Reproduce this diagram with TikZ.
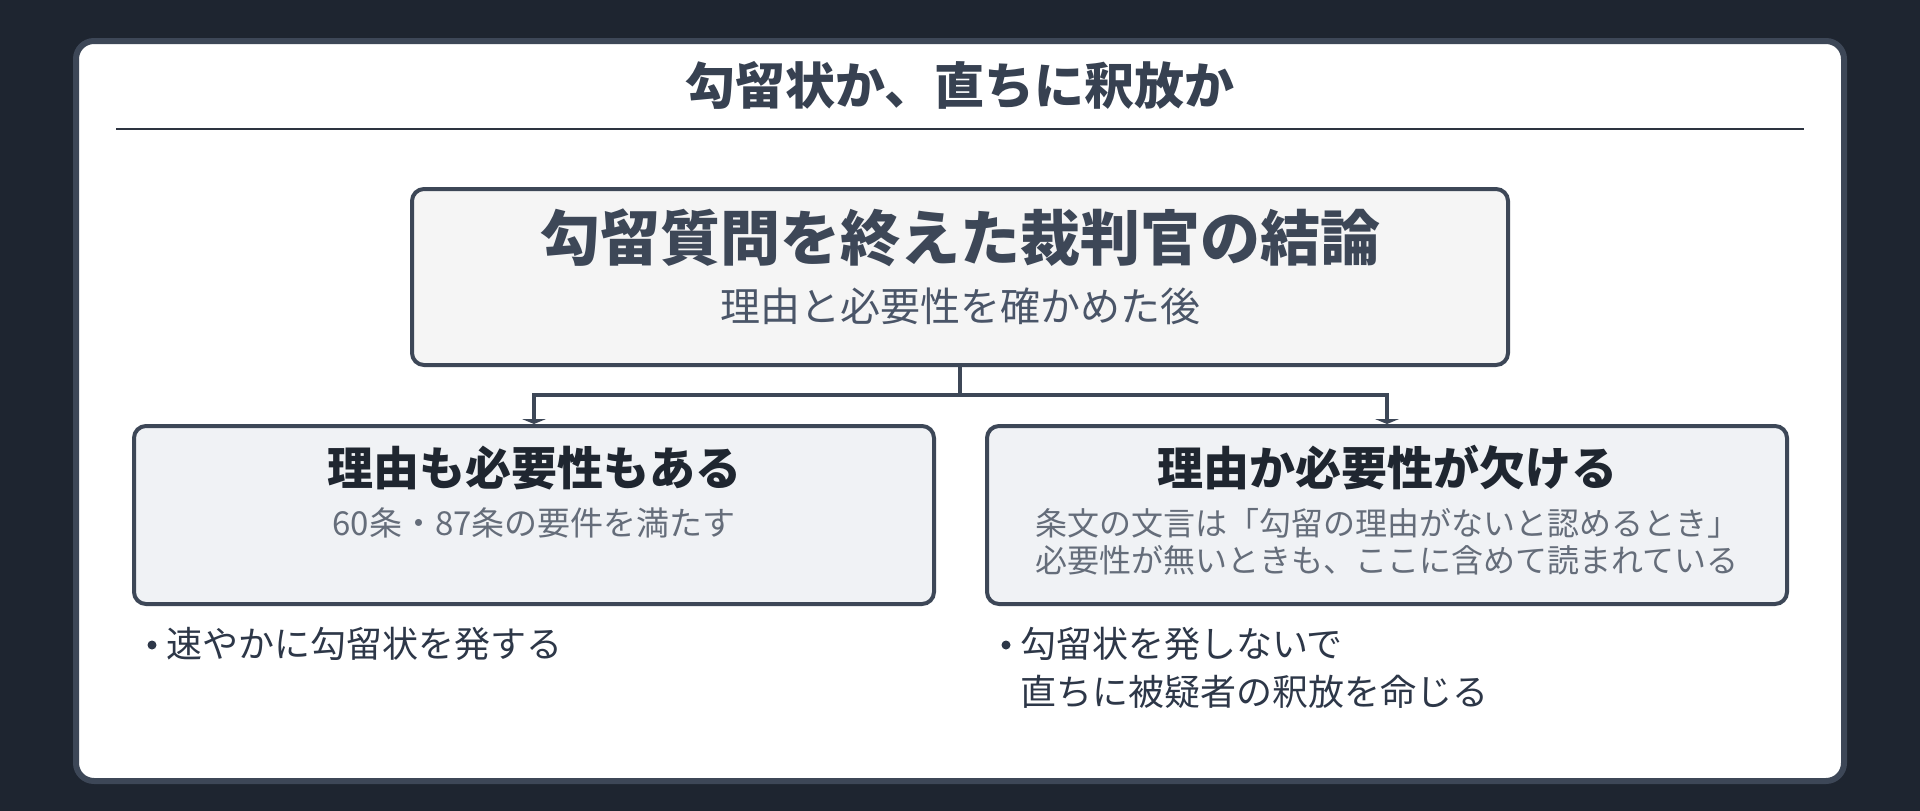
\documentclass[tikz,border=0pt]{standalone}
\usepackage{fontspec}
\setmainfont{Noto Sans CJK JP}
\usetikzlibrary{arrows.meta}
\definecolor{bg}{HTML}{1E2530}
\definecolor{edge}{HTML}{3D4757}
\definecolor{titlec}{HTML}{374151}
\definecolor{rulec}{HTML}{2D3440}
\definecolor{topfill}{HTML}{F5F5F5}
\definecolor{boxfill}{HTML}{F0F2F5}
\definecolor{headc}{HTML}{1F2630}
\definecolor{subc}{HTML}{656D7A}
\definecolor{topsub}{HTML}{4A5568}
\definecolor{bulc}{HTML}{2D3748}
\newcommand{\fs}[1]{\fontsize{#1}{#1}\selectfont}
\begin{document}
\begin{tikzpicture}[x=1pt,y=-1pt,
  card/.style={draw=edge,fill=white,line width=6pt,rounded corners=18pt,inner sep=0pt,minimum width=1768pt,minimum height=740pt},
  topbox/.style={draw=edge,fill=topfill,line width=4pt,rounded corners=12pt,inner sep=0pt,minimum width=1096pt,minimum height=176pt},
  branchbox/.style={draw=edge,fill=boxfill,line width=4pt,rounded corners=12pt,inner sep=0pt,minimum width=800pt,minimum height=178pt},
  txt/.style={inner sep=0pt,outer sep=0pt},
  conn/.style={draw=edge,line width=4pt},
  tipc/.style={conn,-{Triangle[width=24pt,length=5pt]}},
  bulletdot/.style={circle,fill=bulc,inner sep=0pt,minimum size=9pt}
]
\useasboundingbox (0,0) rectangle (1920,811);
\fill[bg] (0,0) rectangle (1920,811);
\node[card] (card) at (960,411) {};
\node[txt,text=titlec,font=\bfseries\fs{50}] (title) at (960,85) {勾留状か、直ちに釈放か};
\draw[draw=rulec,line width=2.5pt] (116,129) -- (1804,129);

\node[topbox] (top) at (960,277) {};
\node[txt,text=edge,font=\bfseries\fs{60}] (toptitle) at (960,238) {勾留質問を終えた裁判官の結論};
\node[txt,text=topsub,font=\fs{40}] (topsubt) at (960,306) {理由と必要性を確かめた後};

\node[branchbox] (left) at (534,515) {};
\node[branchbox] (right) at (1387,515) {};

\coordinate (j) at (960,395);
\draw[conn] (top.south) -- (j);
\draw[tipc] (j) -| (left.north);
\draw[tipc] (j) -| (right.north);

\node[txt,text=headc,font=\bfseries\fs{46}] (lefttitle) at (534,468) {理由も必要性もある};
\node[txt,text=subc,font=\fs{33}] (leftsub) at (534,523) {60条・87条の要件を満たす};

\node[txt,text=headc,font=\bfseries\fs{46}] (righttitle) at (1387,468) {理由か必要性が欠ける};
\node[txt,text=subc,font=\fs{32}] (rightsub1) at (1387,523) {条文の文言は「勾留の理由がないと認めるとき」};
\node[txt,text=subc,font=\fs{32}] (rightsub2) at (1387,560) {必要性が無いときも、ここに含めて読まれている};

\node[bulletdot] (b1) at (152,645) {};
\node[txt,text=bulc,font=\fs{36},anchor=west] (b1t) at (166,644) {速やかに勾留状を発する};
\node[bulletdot] (b2) at (1006,645) {};
\node[txt,text=bulc,font=\fs{36},anchor=west] (b2t) at (1020,644) {勾留状を発しないで};
\node[txt,text=bulc,font=\fs{36},anchor=west] (b3t) at (1020,692) {直ちに被疑者の釈放を命じる};
\end{tikzpicture}
\end{document}
